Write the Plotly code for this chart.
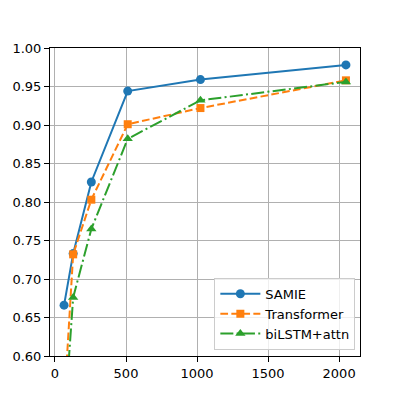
import plotly.graph_objects as go

x_vals = [64, 128, 256, 512, 1024, 2048]
samie = [0.666, 0.733, 0.826, 0.944, 0.959, 0.978]
transformer = [0.535, 0.732, 0.803, 0.901, 0.922, 0.958]
bilstm = [0.507, 0.676, 0.765, 0.882, 0.932, 0.956]
names = ["SAMIE", "Transformer", "biLSTM+attn"]
y_ticks = [0.60, 0.65, 0.70, 0.75, 0.80, 0.85, 0.90, 0.95, 1.00]
x_ticks = [0, 500, 1000, 1500, 2000]

fig = go.Figure()
fig.add_trace(go.Scatter(x=x_vals, y=samie, name=names[0], mode="lines+markers",
                         line=dict(color="#1f77b4", width=2),
                         marker=dict(symbol="circle", size=9, color="#1f77b4")))
fig.add_trace(go.Scatter(x=x_vals, y=transformer, name=names[1], mode="lines+markers",
                         line=dict(color="#ff7f0e", width=2, dash="7.7px,3.3px"),
                         marker=dict(symbol="square", size=8, color="#ff7f0e")))
fig.add_trace(go.Scatter(x=x_vals, y=bilstm, name=names[2], mode="lines+markers",
                         line=dict(color="#2ca02c", width=2, dash="13px,3.3px,2px,3.3px"),
                         marker=dict(symbol="triangle-up", size=9, color="#2ca02c")))

axis_common = dict(showline=True, linecolor="black", linewidth=1, mirror=True,
                   ticks="outside", ticklen=5, tickcolor="black",
                   showgrid=True, gridcolor="#b0b0b0", gridwidth=1, zeroline=False,
                   tickfont=dict(family="DejaVu Sans", size=13, color="black"))
fig.update_xaxes(range=[-35, 2147], tickvals=x_ticks, ticktext=[str(v) for v in x_ticks], **axis_common)
fig.update_yaxes(range=[0.6, 1.0], tickvals=y_ticks, ticktext=[f"{v:.2f}" for v in y_ticks], **axis_common)

fig.update_layout(width=400, height=400, margin=dict(l=50, r=40, t=48, b=44),
                  plot_bgcolor="white", paper_bgcolor="white",
                  font=dict(family="DejaVu Sans", size=13, color="black"),
                  legend=dict(x=0.985, y=0.02, xanchor="right", yanchor="bottom",
                              bgcolor="rgba(255,255,255,0.8)", bordercolor="#cccccc", borderwidth=1,
                              tracegroupgap=0, itemwidth=40,
                              font=dict(size=13)))
fig.write_html("out.html")
